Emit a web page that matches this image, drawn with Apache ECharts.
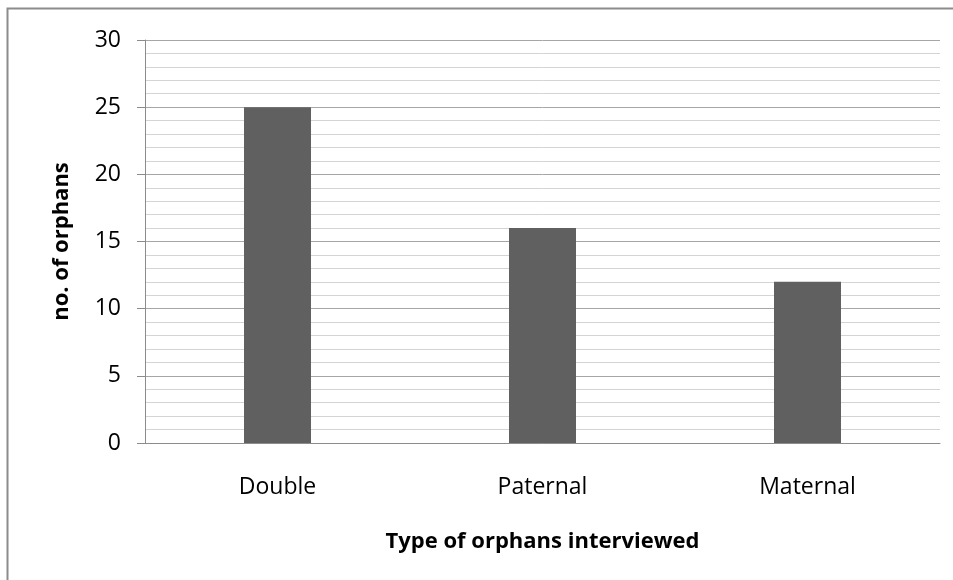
<!DOCTYPE html>
<html>
<head>
<meta charset="utf-8">
<script src="https://cdn.jsdelivr.net/npm/echarts@6/dist/echarts.min.js"></script>
<style>
html,body{margin:0;padding:0;background:#fff;}
#c{width:953px;height:580px;}
</style>
</head>
<body>
<div id="c"></div>
<script>
var categories = ['Double', 'Paternal', 'Maternal'];
var orphanCounts = [25, 16, 12];
var yTitle = 'no. of orphans';
var xTitle = 'Type of orphans interviewed';

var chart = echarts.init(document.getElementById('c'));
var font = '"Open Sans", "Noto Sans", sans-serif';
chart.setOption({
  animation: false,
  backgroundColor: '#ffffff',
  graphic: [{
    type: 'rect',
    shape: {x: 7.5, y: 8.5, width: 970, height: 600},
    style: {fill: 'none', stroke: '#8c8c8c', lineWidth: 2},
    silent: true
  }],
  grid: {left: 145, right: 13, top: 40, bottom: 137},
  xAxis: {
    type: 'category',
    data: categories,
    axisLine: {lineStyle: {color: '#8c8c8c', width: 1}},
    axisTick: {show: false},
    axisLabel: {color: '#000', fontFamily: font, fontSize: 23, margin: 33},
    name: xTitle,
    nameLocation: 'middle',
    nameGap: 88,
    nameTextStyle: {color: '#000', fontFamily: font, fontSize: 22, fontWeight: 'bold'}
  },
  yAxis: {
    type: 'value',
    min: 0, max: 30, interval: 5,
    axisLine: {show: true, lineStyle: {color: '#8c8c8c', width: 1}},
    axisTick: {show: true, length: 8, lineStyle: {color: '#8c8c8c'}},
    axisLabel: {color: '#000', fontFamily: font, fontSize: 23, margin: 24},
    splitLine: {show: true, lineStyle: {color: '#a6a6a6', width: 1}},
    minorTick: {show: false, splitNumber: 5},
    minorSplitLine: {show: true, lineStyle: {color: '#d4d4d4', width: 1}},
    name: yTitle,
    nameLocation: 'middle',
    nameGap: 72,
    nameTextStyle: {color: '#000', fontFamily: font, fontSize: 22, fontWeight: 'bold'}
  },
  series: [{
    type: 'bar',
    data: orphanCounts,
    barWidth: 67,
    itemStyle: {color: '#606060'}
  }]
});
</script>
</body>
</html>
